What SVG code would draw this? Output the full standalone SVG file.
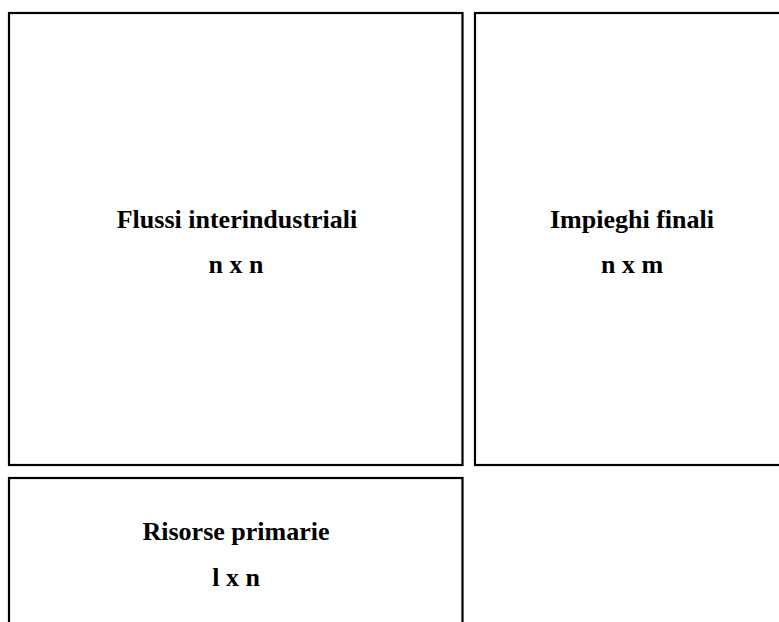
<svg xmlns="http://www.w3.org/2000/svg" width="779" height="622" viewBox="0 0 779 622">
<style>
.box{fill:#fff;stroke:#000;stroke-width:2.2}
.t{font-family:"Liberation Serif","Times New Roman",serif;font-weight:bold;font-size:26px;text-anchor:middle;fill:#000}
</style>
<rect width="779" height="622" fill="#fff"/>
<g id="flussi">
<rect class="box" x="9" y="13" width="453.5" height="452"/>
<text class="t" x="237" y="228">Flussi interindustriali</text>
<text class="t" x="236" y="273">n x n</text>
</g>
<g id="impieghi">
<rect class="box" x="475" y="13" width="313" height="452"/>
<text class="t" x="632" y="228">Impieghi finali</text>
<text class="t" x="632" y="273">n x m</text>
</g>
<g id="risorse">
<rect class="box" x="9" y="478" width="453.5" height="160"/>
<text class="t" x="236" y="540">Risorse primarie</text>
<text class="t" x="236" y="586">l x n</text>
</g>
<g id="connectors"></g>
</svg>
